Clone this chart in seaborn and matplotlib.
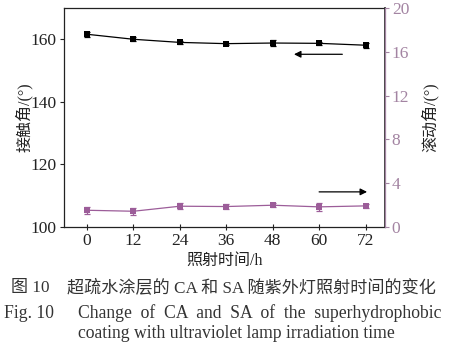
import matplotlib
matplotlib.use("Agg")
import matplotlib.pyplot as plt
import seaborn as sns
import pandas as pd
import numpy as np

sns.set_theme(style="ticks")
plt.rcParams["font.family"] = ["Liberation Serif", "Noto Sans CJK SC", "DejaVu Sans"]
plt.rcParams["mathtext.fontset"] = "stix"

# irradiation time (h)
hours = [0, 12, 24, 36, 48, 60, 72]
# contact angle (deg) and its error
ca = [161.6, 160.0, 159.0, 158.6, 158.8, 158.7, 158.1]
ca_err = [0.8, 0.6, 0.4, 0.3, 0.9, 0.5, 0.8]
# sliding angle (deg) and its error
sa = [1.52, 1.43, 1.89, 1.86, 1.98, 1.83, 1.92]
sa_err = [0.3, 0.3, 0.3, 0.2, 0.2, 0.35, 0.2]

x_ticks = [0, 12, 24, 36, 48, 60, 72]
ca_ticks = [100, 120, 140, 160]
sa_ticks = [0, 4, 8, 12, 16, 20]

purple = "#9c5d99"
axis_purple = "#a384a2"
mixed = ["Liberation Serif", "Noto Sans CJK SC", "DejaVu Sans"]

df = pd.DataFrame({"t": hours, "ca": ca, "sa": sa})

fig = plt.figure(figsize=(4.56, 3.48), dpi=100)
ax = fig.add_axes([0.140, 0.348, 0.704, 0.629])
ax2 = ax.twinx()

sns.lineplot(data=df, x="t", y="ca", ax=ax, color="black", lw=0.9,
             marker="s", markersize=5, markeredgewidth=0)
ax.errorbar(hours, ca, yerr=ca_err, fmt="none", ecolor="black",
            elinewidth=0.9, capsize=2.2, capthick=0.9)

sns.lineplot(data=df, x="t", y="sa", ax=ax2, color=purple, lw=0.9,
             marker="s", markersize=5, markeredgewidth=0)
ax2.errorbar(hours, sa, yerr=sa_err, fmt="none", ecolor=purple,
             elinewidth=0.9, capsize=2.2, capthick=0.9)

ax.set_xlim(-6, 77)
ax.set_ylim(100, 170)
ax2.set_ylim(0, 20)
ax.set_xticks(x_ticks)
ax.set_yticks(ca_ticks)
ax2.set_yticks(sa_ticks)

ax.tick_params(axis="x", direction="inout", length=5, width=0.8,
               labelsize=12.5, pad=2, colors="#222222")
ax.tick_params(axis="y", direction="out", length=3, width=0.8,
               labelsize=12.5, pad=2, colors="#222222")
ax2.tick_params(axis="y", direction="out", length=3, width=0.8,
                labelsize=12.5, pad=2, colors=axis_purple)
for s in ["left", "bottom", "top"]:
    ax.spines[s].set_color("#222222")
    ax.spines[s].set_linewidth(0.9)
ax2.spines["right"].set_color(axis_purple)
ax2.spines["right"].set_linewidth(0.9)
ax2.spines["left"].set_visible(False)
ax2.spines["top"].set_visible(False)
ax2.spines["bottom"].set_visible(False)

ax.set_xlabel("照射时间/h", family=mixed, fontsize=11.5, labelpad=3,
              color="#222222")
ax.set_ylabel("接触角/(°)", family=mixed, fontsize=11.5, color="#222222",
              va="center")
ax2.set_ylabel("滚动角/(°)", family=mixed, fontsize=11.5, color="#222222",
               va="center")
ax.yaxis.set_label_coords(-0.125, 0.5)
ax2.yaxis.set_label_coords(1.140, 0.5)

# direction arrows pointing to each series' axis
ax.annotate("", xy=(53.5, 155.2), xytext=(66, 155.2),
            arrowprops=dict(arrowstyle="-|>", color="black", lw=0.9,
                            mutation_scale=10, shrinkA=0, shrinkB=0))
ax2.annotate("", xy=(72.4, 3.2), xytext=(60, 3.2),
             arrowprops=dict(arrowstyle="-|>", color="black", lw=0.9,
                             mutation_scale=10, shrinkA=0, shrinkB=0))

cap = "#333333"
fig.text(0.025, 0.172, "图 10", family=mixed, fontsize=12.3, color=cap,
         va="center", ha="left")
fig.text(0.147, 0.172, "超疏水涂层的 CA 和 SA 随紫外灯照射时间的变化",
         family=mixed, fontsize=12.3, color=cap, va="center", ha="left")
fig.text(0.008, 0.100, "Fig. 10", fontsize=12.7, color=cap,
         va="center", ha="left")
fig.text(0.171, 0.100, "Change  of  CA  and  SA  of  the  superhydrophobic",
         fontsize=12.7, color=cap, va="center", ha="left")
fig.text(0.171, 0.042, "coating with ultraviolet lamp irradiation time",
         fontsize=12.7, color=cap, va="center", ha="left")

fig.savefig("out.png", dpi=100)
